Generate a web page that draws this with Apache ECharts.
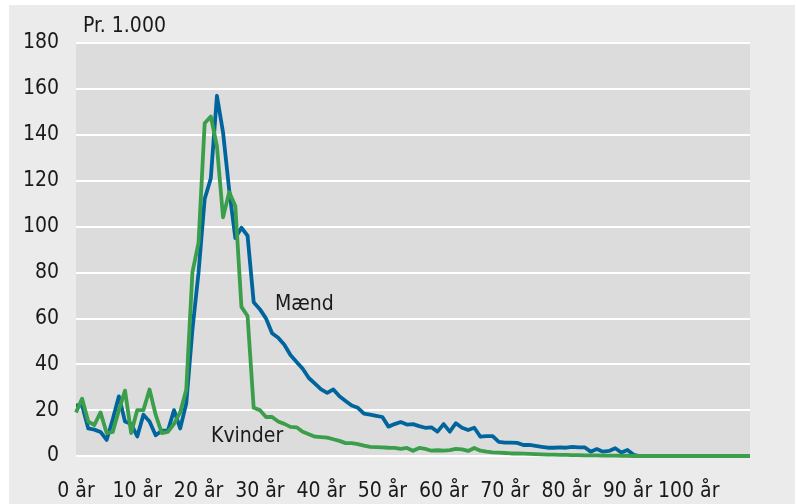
<!DOCTYPE html>
<html>
<head>
<meta charset="utf-8">
<script src="https://cdn.jsdelivr.net/npm/echarts@6/dist/echarts.min.js"></script>
<style>
  html, body { margin: 0; padding: 0; background: #ffffff; }
  #panel { position: absolute; left: 9px; top: 5px; width: 786px; height: 499px; background: #ebebeb; }
  #chart { position: absolute; left: 0; top: 0; width: 797px; height: 504px; }
</style>
</head>
<body>
<div id="panel"></div>
<div id="chart"></div>
<script>
// Ages 0..110 (categories)
const ages = [];
for (let a = 0; a <= 110; a++) ages.push(a);

const xTickLabels = ['0 år', '10 år', '20 år', '30 år', '40 år', '50 år', '60 år', '70 år', '80 år', '90 år', '100 år'];
const yTicks = [0, 20, 40, 60, 80, 100, 120, 140, 160, 180];

// Mænd (per 1.000)
const maend = [
  22, 22, 12, 11.5, 10.5, 7, 16, 26, 15, 14,
  8.5, 18, 15, 9, 11, 11, 20, 12, 23, 55,
  80, 112, 121, 157, 141, 116, 95, 99.5, 96, 67,
  64, 60, 53.5, 51.5, 48.5, 44, 41, 38, 34, 31.5,
  29, 27.5, 29, 26, 24, 22, 21, 18.5, 18, 17.5,
  17, 12.8, 13.9, 14.8, 13.7, 13.9, 13, 12.3, 12.5, 10.6,
  13.9, 10.6, 14.3, 12.3, 11.3, 12.3, 8.4, 8.7, 8.7, 6.2,
  5.8, 5.8, 5.7, 4.8, 4.8, 4.4, 4, 3.6, 3.6, 3.8,
  3.6, 4, 3.8, 3.8, 1.9, 3, 1.9, 2.2, 3.4, 1.5,
  2.6, 0.5, 0, 0, 0, 0, 0, 0, 0, 0,
  0, 0, 0, 0, 0, 0, 0, 0, 0, 0,
  0
];

// Kvinder (per 1.000)
const kvinder = [
  19, 25, 15, 13.5, 19, 10, 10.5, 20, 28.5, 10,
  20, 20, 29, 18, 10, 10.5, 14, 19, 29, 80,
  93, 145, 148, 135, 104, 115, 109, 65, 61, 21,
  20, 17, 17, 15, 14, 12.7, 12.5, 10.6, 9.5, 8.4,
  8.2, 8, 7.3, 6.6, 5.6, 5.6, 5.2, 4.5, 4, 3.9,
  3.8, 3.6, 3.5, 3.1, 3.5, 2.3, 3.5, 3.1, 2.3, 2.5,
  2.3, 2.6, 3.1, 2.9, 2.2, 3.5, 2.3, 1.9, 1.6, 1.5,
  1.3, 1.1, 1.1, 1, 0.9, 0.8, 0.7, 0.6, 0.6, 0.5,
  0.5, 0.4, 0.4, 0.3, 0.3, 0.3, 0.2, 0.2, 0.2, 0.1,
  0.1, 0, 0, 0, 0, 0, 0, 0, 0, 0,
  0, 0, 0, 0, 0, 0, 0, 0, 0, 0,
  0
];

const FONT = "'Liberation Sans Narrow', 'DejaVu Sans Condensed', 'Liberation Sans', sans-serif";
const chart = echarts.init(document.getElementById('chart'), null, { renderer: 'canvas' });

chart.setOption({
  backgroundColor: 'transparent',
  animation: false,
  grid: { left: 76, right: 47, top: 43, bottom: 48, show: true, backgroundColor: '#dcdcdc', borderWidth: 0 },
  xAxis: {
    type: 'category',
    data: ages,
    boundaryGap: false,
    axisLine: { show: false },
    axisTick: { show: false },
    splitLine: { show: false },
    axisLabel: {
      interval: function (idx) { return idx % 10 === 0 && idx < 110; },
      formatter: function (v, idx) { return xTickLabels[Math.round(idx / 10)] || ''; },
      margin: 25,
      color: '#1a1a1a',
      fontFamily: FONT,
      fontSize: 21
    }
  },
  yAxis: {
    type: 'value',
    min: yTicks[0],
    max: yTicks[yTicks.length - 1],
    interval: 20,
    axisLine: { show: false },
    axisTick: { show: false },
    splitLine: { show: true, lineStyle: { color: '#ffffff', width: 2 } },
    axisLabel: { margin: 17, color: '#1a1a1a', fontFamily: FONT, fontSize: 21, padding: [3, 0, 0, 0] }
  },
  graphic: [
    { type: 'text', left: 83, top: 16, style: { text: 'Pr. 1.000', fill: '#1a1a1a', font: '21px ' + FONT } },
    { type: 'text', left: 275, top: 294, style: { text: 'Mænd', fill: '#1a1a1a', font: '21px ' + FONT } },
    { type: 'text', left: 211, top: 426, style: { text: 'Kvinder', fill: '#1a1a1a', font: '21px ' + FONT } }
  ],
  series: [
    {
      name: 'Mænd', type: 'line', data: maend, showSymbol: false, smooth: false,
      lineStyle: { color: '#00659c', width: 3.8, join: 'round' }, z: 2
    },
    {
      name: 'Kvinder', type: 'line', data: kvinder, showSymbol: false, smooth: false,
      lineStyle: { color: '#3b9e4a', width: 3.8, join: 'round' }, z: 3
    }
  ]
});
</script>
</body>
</html>
